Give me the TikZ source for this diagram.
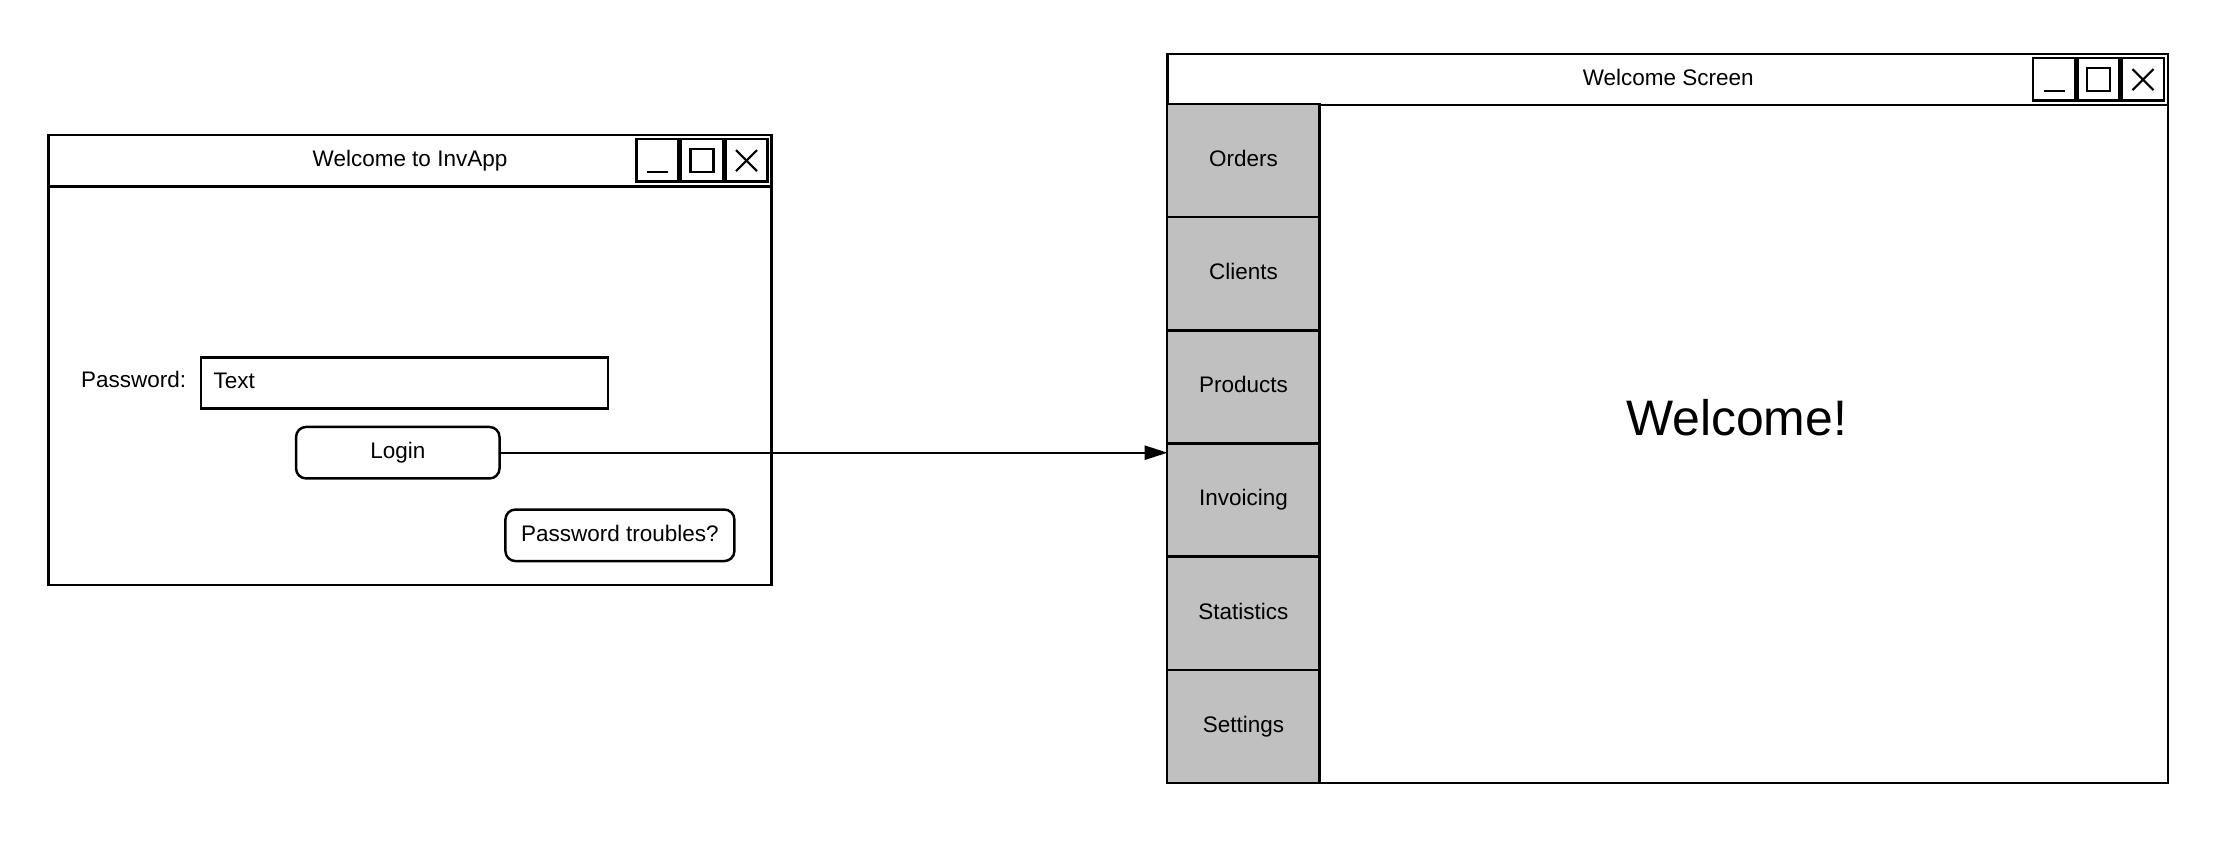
\documentclass[tikz,border=0pt]{standalone}
\usepackage{fontspec}
\setmainfont{Liberation Sans}
\usetikzlibrary{positioning,calc,arrows.meta}
\definecolor{menugray}{HTML}{C0C0C0}

\begin{document}
\begin{tikzpicture}[x=0.02cm,y=-0.02cm,>={Triangle[length=13pt,width=8pt]},
  every node/.style={font=\fontsize{12.8pt}{15pt}\selectfont,text height=9.3pt,text depth=2.7pt},
  window/.style={draw,line width=1.4pt,inner sep=0pt,outer sep=0pt},
  btn/.style={draw,line width=1.4pt,rounded corners=0.2cm,minimum height=1.03cm},
  menuitem/.style={draw,line width=1.4pt,fill=menugray,outer sep=0pt,
    minimum width=3.05cm,minimum height=2.264cm}]

\useasboundingbox (0,0) rectangle (2232,846);

%------------------------
% Login window
%------------------------
\node[window,minimum width=14.46cm,minimum height=9cm] (wlogin) at (409.95,360.15) {};
\draw[line width=1.4pt] ([yshift=-1.026cm]wlogin.north west) -- ([yshift=-1.026cm]wlogin.north east);
\node (ltitle) at (410,160.9) {Welcome to InvApp};

\node[anchor=east,inner sep=0pt] (pwlabel) at (186.5,381.5) {Password:};
\node[draw,line width=1.4pt,text width=7.63cm,inner xsep=0.256cm,
  minimum height=1.02cm,align=left] (pwbox) at (404.3,382.9) {Text};
\node[btn,minimum width=4.07cm] (login) at (397.8,452.7) {Login};
\node[btn,minimum width=4.58cm] (trouble) at (619.9,535.3) {Password troubles?};

%------------------------
% Welcome screen window
%------------------------
\node[window,minimum width=20.01cm,minimum height=14.58cm] (wscreen) at (1667.65,418.5) {};
\draw[line width=1.4pt] ([yshift=-1.024cm]wscreen.north west) -- ([yshift=-1.024cm]wscreen.north east);
\node (stitle) at (1668.3,79.7) {Welcome Screen};

% side menu
\foreach \lbl [count=\i] in {Orders,Clients,Products,Invoicing,Statistics,Settings}
  \node[menuitem] (menu\i) at (1243.45,{103.9+113.2*(\i-0.5)}) {\lbl};

\node[font=\fontsize{28.4pt}{34pt}\selectfont,text height=20.7pt,text depth=0pt]
  (welcome) at (1736.7,417) {Welcome!};

%------------------------
% Minimize / maximize / close buttons
%------------------------
\foreach \R/\T in {771.5/135.2, 2168/54.1} {
  \draw[line width=1.4pt] (\R-135,\T+4) rectangle (\R-93,\T+46.5);
  \draw[line width=1.4pt] (\R-90.5,\T+4) rectangle (\R-48.5,\T+46.5);
  \draw[line width=1.4pt] (\R-46,\T+4) rectangle (\R-4,\T+46.5);
  \draw[line width=1.2pt] (\R-124.5,\T+36.5) -- (\R-103.5,\T+36.5);
  \draw[line width=1.2pt] (\R-81,\T+13.75) rectangle (\R-58,\T+36.75);
  \draw[line width=1.2pt] (\R-35.5,\T+15) -- (\R-14.5,\T+36);
  \draw[line width=1.2pt] (\R-35.5,\T+36) -- (\R-14.5,\T+15);
}

%------------------------
% Login leads to the welcome screen
%------------------------
\draw[->,line width=1.2pt] (login.east) -- (login.east -| wscreen.west);

\end{tikzpicture}
\end{document}
